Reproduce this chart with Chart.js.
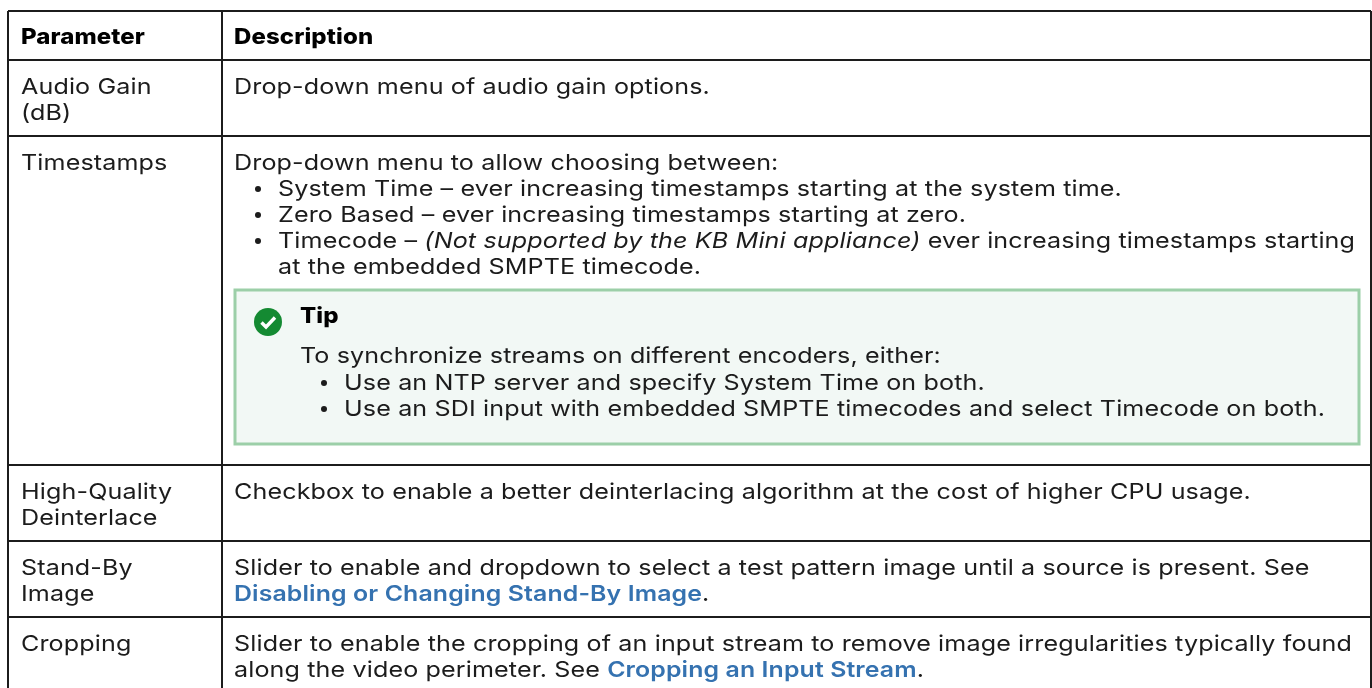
<!DOCTYPE html>
<html>
<head>
<meta charset="utf-8">
<title>Parameters</title>
<script src="https://cdn.jsdelivr.net/npm/chart.js@4"></script>
<style>
  html, body { margin: 0; padding: 0; background: #fff; overflow: hidden; }
  #wrap { width: 1372px; height: 688px; }
</style>
</head>
<body>
<div id="wrap"><canvas id="tableChart"></canvas></div>
<script>
// table content, *x* = italic, [x] = link, "- " = bullet, "  " = continued bullet
const headers = ['Parameter', 'Description'];
const parameters = [
  ['Audio Gain', '(dB)'],
  ['Timestamps'],
  ['High-Quality', 'Deinterlace'],
  ['Stand-By', 'Image'],
  ['Cropping']
];
const descriptions = [
  ['Drop-down menu of audio gain options.'],
  ['Drop-down menu to allow choosing between:',
   '- System Time – ever increasing timestamps starting at the system time.',
   '- Zero Based – ever increasing timestamps starting at zero.',
   '- Timecode – *(Not supported by the KB Mini appliance)* ever increasing timestamps starting',
   '  at the embedded SMPTE timecode.'],
  ['Checkbox to enable a better deinterlacing algorithm at the cost of higher CPU usage.'],
  ['Slider to enable and dropdown to select a test pattern image until a source is present. See',
   '[Disabling or Changing Stand-By Image].'],
  ['Slider to enable the cropping of an input stream to remove image irregularities typically found',
   'along the video perimeter. See [Cropping an Input Stream].']
];
const tipTitle = 'Tip';
const tipLines = [
  'To synchronize streams on different encoders, either:',
  '- Use an NTP server and specify System Time on both.',
  '- Use an SDI input with embedded SMPTE timecodes and select Timecode on both.'
];
// grid edges, used as the ticks of both axes
const columnEdges = [8, 222, 1371];
const rowEdges = [11, 60, 136, 465, 541, 617];

const TEXT_FONT = 'Inter, "Noto Sans", sans-serif';
const TEXT_SIZE = 22;
const TRACKING = '0.1px';
const WIDEN = 1.142;       // reference face is wider than Inter
const WIDEN_BOLD = 1.09;
const WIDEN_LINK = 1.13;
const LINE_H = 26;
const CELL_PAD = 13;
const INK = '#1c1c1c';
const LINK = '#3572b0';
const TIP_BOX = { left: 235, right: 1359, top: 290, bottom: 444 };

function cellPoints() {
  const pts = [];
  headers.forEach((h, c) => {
    pts.push({ x: columnEdges[c] + CELL_PAD - (c ? 1 : 0), y: rowEdges[0] + 33, text: h, bold: true });
  });
  const addCell = (lines, c, r) => lines.forEach((text, i) => {
    pts.push({ x: columnEdges[c] + CELL_PAD - (c ? 1 : 0), y: rowEdges[r + 1] + 34 + i * LINE_H, text });
  });
  parameters.forEach((lines, r) => addCell(lines, 0, r));
  descriptions.forEach((lines, r) => addCell(lines, 1, r));
  pts.push({ x: TIP_BOX.left + 65, y: TIP_BOX.top + 33, text: tipTitle, bold: true });
  tipLines.forEach((text, i) => {
    pts.push({ x: TIP_BOX.left + 65, y: TIP_BOX.top + 73 + i * LINE_H + (i ? 1 : 0), text });
  });
  return pts;
}

// splits a line into plain, italic and link runs
function runsOf(text) {
  return text.split(/(\*[^*]+\*|\[[^\]]+\])/).filter(Boolean).map(part => {
    if (part[0] === '*') return { text: part.slice(1, -1), style: 'italic' };
    if (part[0] === '[') return { text: part.slice(1, -1), style: 'link' };
    return { text: part, style: 'plain' };
  });
}

const tipBoxPlugin = {
  id: 'tipBox',
  beforeDatasetsDraw(chart) {
    const { ctx, scales: { x, y } } = chart;
    const l = x.getPixelForValue(TIP_BOX.left), r = x.getPixelForValue(TIP_BOX.right);
    const t = y.getPixelForValue(TIP_BOX.top), b = y.getPixelForValue(TIP_BOX.bottom);
    ctx.save();
    ctx.fillStyle = '#f2f8f5';
    ctx.fillRect(l, t, r - l, b - t);
    ctx.strokeStyle = '#9ccfa8';
    ctx.lineWidth = 3;
    ctx.strokeRect(l, t, r - l, b - t);
    // green check icon
    const cx = l + 33, cy = t + 32;
    ctx.fillStyle = '#148a32';
    ctx.beginPath();
    ctx.arc(cx, cy, 14, 0, Math.PI * 2);
    ctx.fill();
    ctx.strokeStyle = '#fff';
    ctx.lineWidth = 3.4;
    ctx.beginPath();
    ctx.moveTo(cx - 6.5, cy + 0.5);
    ctx.lineTo(cx - 2, cy + 5);
    ctx.lineTo(cx + 7, cy - 4.5);
    ctx.stroke();
    ctx.restore();
  }
};

const cellTextPlugin = {
  id: 'cellText',
  afterDatasetsDraw(chart) {
    const { ctx } = chart;
    const meta = chart.getDatasetMeta(0);
    ctx.save();
    ctx.textBaseline = 'alphabetic';
    ctx.letterSpacing = TRACKING;
    meta.data.forEach((el, i) => {
      const raw = chart.data.datasets[0].data[i];
      let px = el.x;
      let text = raw.text;
      if (text.startsWith('- ')) {
        ctx.fillStyle = INK;
        ctx.beginPath();
        ctx.arc(px + 24, el.y - 7, 3, 0, Math.PI * 2);
        ctx.fill();
        px += 44;
        text = text.slice(2);
      } else if (text.startsWith('  ')) {
        px += 44;
        text = text.slice(2);
      }
      runsOf(text).forEach(run => {
        let widen = WIDEN;
        if (raw.bold) {
          ctx.font = '800 ' + TEXT_SIZE + 'px ' + TEXT_FONT;
          widen = WIDEN_BOLD;
        } else if (run.style === 'italic') {
          ctx.font = 'italic 400 ' + TEXT_SIZE + 'px ' + TEXT_FONT;
        } else if (run.style === 'link') {
          ctx.font = '600 ' + TEXT_SIZE + 'px ' + TEXT_FONT;
          widen = WIDEN_LINK;
        } else {
          ctx.font = '400 ' + TEXT_SIZE + 'px ' + TEXT_FONT;
        }
        ctx.fillStyle = run.style === 'link' ? LINK : (raw.bold ? '#000' : INK);
        ctx.save();
        ctx.translate(px, el.y);
        ctx.scale(widen, 1);
        ctx.fillText(run.text, 0, 0);
        ctx.restore();
        px += ctx.measureText(run.text).width * widen;
      });
    });
    ctx.restore();
  }
};

function edgeAxis(edges, min, max) {
  return {
    type: 'linear',
    min,
    max,
    afterBuildTicks: axis => { axis.ticks = edges.map(value => ({ value })); },
    grid: { color: '#1c1c1c', lineWidth: 2, drawTicks: false },
    border: { display: false },
    ticks: { display: false }
  };
}

function createChart() {
  const ctx = document.getElementById('tableChart').getContext('2d');
  new Chart(ctx, {
    type: 'scatter',
    data: { datasets: [{ data: cellPoints(), pointRadius: 0 }] },
    options: {
      responsive: true,
      maintainAspectRatio: false,
      animation: false,
      events: [],
      layout: { padding: { left: 8, top: 11, right: 1, bottom: 0 } },
      plugins: { legend: { display: false }, tooltip: { enabled: false } },
      scales: {
        x: edgeAxis(columnEdges, 8, 1371),
        y: { ...edgeAxis(rowEdges, 11, 688), reverse: true }
      }
    },
    plugins: [tipBoxPlugin, cellTextPlugin]
  });
}
document.fonts.load('800 22px Inter').finally(createChart);
</script>
</body>
</html>
